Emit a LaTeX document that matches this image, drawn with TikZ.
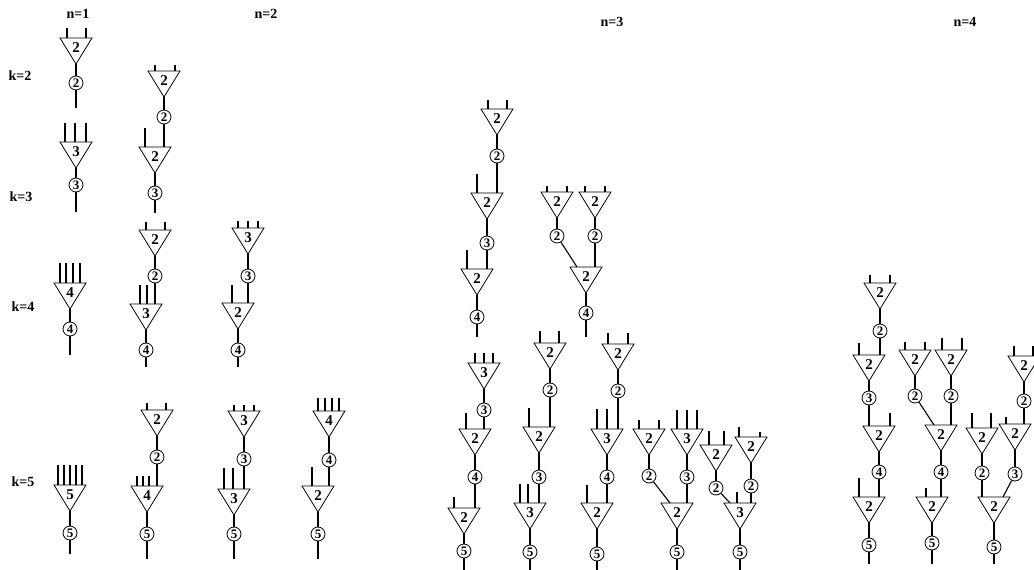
\documentclass[tikz,border=0pt]{standalone}
\usepackage{fontspec}
\setmainfont{Liberation Serif}
\tikzset{
  wire/.style={line width=1.1pt},
  gateline/.style={line width=0.8pt},
  glabel/.style={inner sep=0pt, font=\bfseries\fontsize{15}{15}\selectfont},
  circ/.style={circle, draw, line width=0.8pt, inner sep=0pt, minimum size=14pt, font=\bfseries\fontsize{13}{13}\selectfont},
  head/.style={inner sep=0pt, font=\bfseries\fontsize{14}{14}\selectfont}
}
\newcommand\gate[4]{%
  \coordinate (#1-t) at (#2,#3);
  \coordinate (#1-a) at (#2,#3+26);
  \draw[gateline] (#2-16,#3) -- (#2+16,#3) -- (#1-a) -- cycle;
  \node[glabel] (#1) at (#2,#3+10) {#4};
}
\newcommand\ins[3]{\foreach \xx in {#3} {\draw[wire] (\xx,#1) -- (\xx,#2);}}
\newcommand\outw[2]{\draw[wire] (#1.south) -- ++(0,#2);}
\newcommand\down[2]{\draw[wire] (#1) -- (#1 |- #2-t);}
\begin{document}
\begin{tikzpicture}[x=1pt,y=-1pt]
\useasboundingbox (0,0) rectangle (1034,570);
\clip (0,0) rectangle (1034,570);
% headings
\node[head] (n1) at (78,14) {n=1};
\node[head] (n2) at (266,14) {n=2};
\node[head] (n3) at (612,22) {n=3};
\node[head] (n4) at (965,22) {n=4};
\node[head] (k2) at (20,76) {k=2};
\node[head] (k3) at (21,197) {k=3};
\node[head] (k4) at (23,307) {k=4};
\node[head] (k5) at (23,482) {k=5};
% ---------------- n=1
\gate{a1}{76}{38}{2} \ins{38}{28}{67,86}
\node[circ] (ca1) at (76,83) {2}; \draw[wire] (a1-a) -- (ca1); \outw{ca1}{18}
\gate{b1}{76}{142}{3} \ins{142}{123}{65,75,86}
\node[circ] (cb1) at (76,185) {3}; \draw[wire] (b1-a) -- (cb1); \outw{cb1}{20}
\gate{c1}{70}{283}{4} \ins{283}{263}{60,66,73,80}
\node[circ] (cc1) at (70,329) {4}; \draw[wire] (c1-a) -- (cc1); \outw{cc1}{19}
\gate{d1}{70}{485}{5} \ins{485}{465}{58,64,70,76,82}
\node[circ] (cd1) at (70,533) {5}; \draw[wire] (d1-a) -- (cd1); \outw{cd1}{14}
% ---------------- n=2, k=3
\gate{e1}{164}{71}{2} \ins{71}{65}{155,175}
\node[circ] (ce1) at (164,117) {2}; \draw[wire] (e1-a) -- (ce1);
\gate{e2}{155}{147}{2} \ins{147}{128}{145} \down{ce1}{e2}
\node[circ] (ce2) at (155,193) {3}; \draw[wire] (e2-a) -- (ce2); \outw{ce2}{13}
% ---------------- n=2, k=4
\gate{f1}{155}{230}{2} \ins{230}{222}{146,165}
\node[circ] (cf1) at (155,276) {2}; \draw[wire] (f1-a) -- (cf1);
\gate{f2}{146}{304}{3} \ins{304}{285}{140,147} \down{cf1}{f2}
\node[circ] (cf2) at (146,350) {4}; \draw[wire] (f2-a) -- (cf2); \outw{cf2}{10}
\gate{g1}{248}{228}{3} \ins{228}{221}{238,248,258}
\node[circ] (cg1) at (248,276) {3}; \draw[wire] (g1-a) -- (cg1);
\gate{g2}{238}{303}{2} \ins{303}{285}{232} \down{cg1}{g2}
\node[circ] (cg2) at (238,350) {4}; \draw[wire] (g2-a) -- (cg2); \outw{cg2}{10}
% ---------------- n=2, k=5
\gate{h1}{157}{410}{2} \ins{410}{403}{147,166}
\node[circ] (ch1) at (157,457) {2}; \draw[wire] (h1-a) -- (ch1);
\gate{h2}{147}{486}{4} \ins{486}{476}{137,143,149} \down{ch1}{h2}
\node[circ] (ch2) at (147,534) {5}; \draw[wire] (h2-a) -- (ch2); \outw{ch2}{18}
\gate{i1}{244}{411}{3} \ins{411}{405}{234,244,254}
\node[circ] (ci1) at (244,459) {3}; \draw[wire] (i1-a) -- (ci1);
\gate{i2}{234}{489}{3} \ins{489}{468}{224,233} \down{ci1}{i2}
\node[circ] (ci2) at (234,534) {5}; \draw[wire] (i2-a) -- (ci2); \outw{ci2}{18}
\gate{j1}{329}{411}{4} \ins{411}{398}{318,325,332,339}
\node[circ] (cj1) at (329,460) {4}; \draw[wire] (j1-a) -- (cj1);
\gate{j2}{318}{486}{2} \ins{486}{467}{312} \down{cj1}{j2}
\node[circ] (cj2) at (318,534) {5}; \draw[wire] (j2-a) -- (cj2); \outw{cj2}{18}
% ---------------- n=3, k=4
\gate{A1}{497}{109}{2} \ins{109}{100}{488,507}
\node[circ] (cA1) at (497,156) {2}; \draw[wire] (A1-a) -- (cA1);
\gate{A2}{487}{193}{2} \ins{193}{174}{477} \down{cA1}{A2}
\node[circ] (cA2) at (487,243) {3}; \draw[wire] (A2-a) -- (cA2);
\gate{A3}{477}{269}{2} \ins{269}{250}{467} \down{cA2}{A3}
\node[circ] (cA3) at (477,317) {4}; \draw[wire] (A3-a) -- (cA3); \outw{cA3}{13}
\gate{B1}{557}{192}{2} \ins{192}{186}{547,567}
\gate{B2}{595}{192}{2} \ins{192}{186}{585,605}
\node[circ] (cB1) at (557,236) {2}; \draw[wire] (B1-a) -- (cB1);
\node[circ] (cB2) at (595,236) {2}; \draw[wire] (B2-a) -- (cB2);
\gate{B3}{586}{267}{2} \coordinate (B3-l) at (577,267);
\draw[wire] (cB1) -- (B3-l); \down{cB2}{B3}
\node[circ] (cB3) at (586,313) {4}; \draw[wire] (B3-a) -- (cB3); \outw{cB3}{17}
% ---------------- n=3, k=5
\gate{C1}{484}{363}{3} \ins{363}{353}{475,484,493}
\node[circ] (cC1) at (484,410) {3}; \draw[wire] (C1-a) -- (cC1);
\gate{C2}{475}{429}{2} \ins{429}{413}{466} \down{cC1}{C2}
\node[circ] (cC2) at (475,477) {4}; \draw[wire] (C2-a) -- (cC2);
\gate{C3}{464}{508}{2} \ins{508}{497}{454} \down{cC2}{C3}
\node[circ] (cC3) at (464,551) {5}; \draw[wire] (C3-a) -- (cC3); \outw{cC3}{13}
\gate{D1}{550}{343}{2} \ins{343}{331}{540,559}
\node[circ] (cD1) at (550,390) {2}; \draw[wire] (D1-a) -- (cD1);
\gate{D2}{539}{427}{2} \ins{427}{408}{529} \down{cD1}{D2}
\node[circ] (cD2) at (539,477) {3}; \draw[wire] (D2-a) -- (cD2);
\gate{D3}{530}{503}{3} \ins{503}{484}{520,528} \down{cD2}{D3}
\node[circ] (cD3) at (530,552) {5}; \draw[wire] (D3-a) -- (cD3); \outw{cD3}{12}
\gate{E1}{618}{344}{2} \ins{344}{333}{608,628}
\node[circ] (cE1) at (618,391) {2}; \draw[wire] (E1-a) -- (cE1);
\gate{E2}{607}{429}{3} \ins{429}{409}{597,607} \down{cE1}{E2}
\node[circ] (cE2) at (607,477) {4}; \draw[wire] (E2-a) -- (cE2);
\gate{E3}{597}{503}{2} \ins{503}{485}{587} \down{cE2}{E3}
\node[circ] (cE3) at (597,554) {5}; \draw[wire] (E3-a) -- (cE3); \outw{cE3}{10}
\gate{F1}{649}{429}{2} \ins{429}{420}{639,659}
\gate{F2}{687}{429}{3} \ins{429}{410}{677,687,697}
\node[circ] (cF1) at (649,476) {2}; \draw[wire] (F1-a) -- (cF1);
\node[circ] (cF2) at (687,477) {3}; \draw[wire] (F2-a) -- (cF2);
\gate{F3}{677}{503}{2} \coordinate (F3-l) at (670,503);
\draw[wire] (cF1) -- (F3-l); \down{cF2}{F3}
\node[circ] (cF3) at (677,552) {5}; \draw[wire] (F3-a) -- (cF3); \outw{cF3}{12}
\gate{G1}{716}{445}{2} \ins{445}{431}{709,724}
\gate{G2}{751}{437}{2} \ins{437}{427}{739} \ins{437}{432}{760}
\node[circ] (cG1) at (716,488) {2}; \draw[wire] (G1-a) -- (cG1);
\node[circ] (cG2) at (751,486) {2}; \draw[wire] (G2-a) -- (cG2);
\gate{G3}{740}{503}{3} \ins{503}{492}{737} \coordinate (G3-l) at (730,503);
\draw[wire] (cG1) -- (G3-l); \down{cG2}{G3}
\node[circ] (cG3) at (740,552) {5}; \draw[wire] (G3-a) -- (cG3); \outw{cG3}{12}
% ---------------- n=4, k=5
\gate{H1}{880}{283}{2} \ins{283}{275}{870,890}
\node[circ] (cH1) at (880,331) {2}; \draw[wire] (H1-a) -- (cH1);
\gate{H2}{869}{355}{2} \ins{355}{343}{859} \down{cH1}{H2}
\node[circ] (cH2) at (869,398) {3}; \draw[wire] (H2-a) -- (cH2);
\gate{H3}{879}{426}{2} \ins{426}{413}{890} \down{cH2}{H3}
\node[circ] (cH3) at (879,472) {4}; \draw[wire] (H3-a) -- (cH3);
\gate{H4}{869}{497}{2} \ins{497}{478}{859} \down{cH3}{H4}
\node[circ] (cH4) at (869,545) {5}; \draw[wire] (H4-a) -- (cH4); \outw{cH4}{12}
\gate{I1}{915}{350}{2} \ins{350}{342}{905,925}
\gate{I2}{951}{350}{2} \ins{350}{338}{942,962}
\node[circ] (cI1) at (915,396) {2}; \draw[wire] (I1-a) -- (cI1);
\node[circ] (cI2) at (951,396) {2}; \draw[wire] (I2-a) -- (cI2);
\gate{I3}{941}{425}{2} \coordinate (I3-l) at (934,425);
\draw[wire] (cI1) -- (I3-l); \down{cI2}{I3}
\node[circ] (cI3) at (941,472) {4}; \draw[wire] (I3-a) -- (cI3);
\gate{I4}{932}{497}{2} \ins{497}{488}{926} \down{cI3}{I4}
\node[circ] (cI4) at (932,543) {5}; \draw[wire] (I4-a) -- (cI4); \outw{cI4}{14}
\gate{J1}{1024}{356}{2} \ins{356}{346}{1014,1033}
\node[circ] (cJ1) at (1024,401) {2}; \draw[wire] (J1-a) -- (cJ1);
\gate{J2}{1015}{424}{2} \ins{424}{417}{1006} \down{cJ1}{J2}
\node[circ] (cJ2) at (1015,474) {3}; \draw[wire] (J2-a) -- (cJ2);
\gate{J3}{982}{428}{2} \ins{428}{413}{972,991}
\node[circ] (cJ3) at (982,473) {2}; \draw[wire] (J3-a) -- (cJ3);
\gate{J4}{994}{497}{2} \coordinate (J4-r) at (1003,497);
\down{cJ3}{J4} \draw[wire] (cJ2) -- (J4-r);
\node[circ] (cJ4) at (994,547) {5}; \draw[wire] (J4-a) -- (cJ4); \outw{cJ4}{10}
\end{tikzpicture}
\end{document}
